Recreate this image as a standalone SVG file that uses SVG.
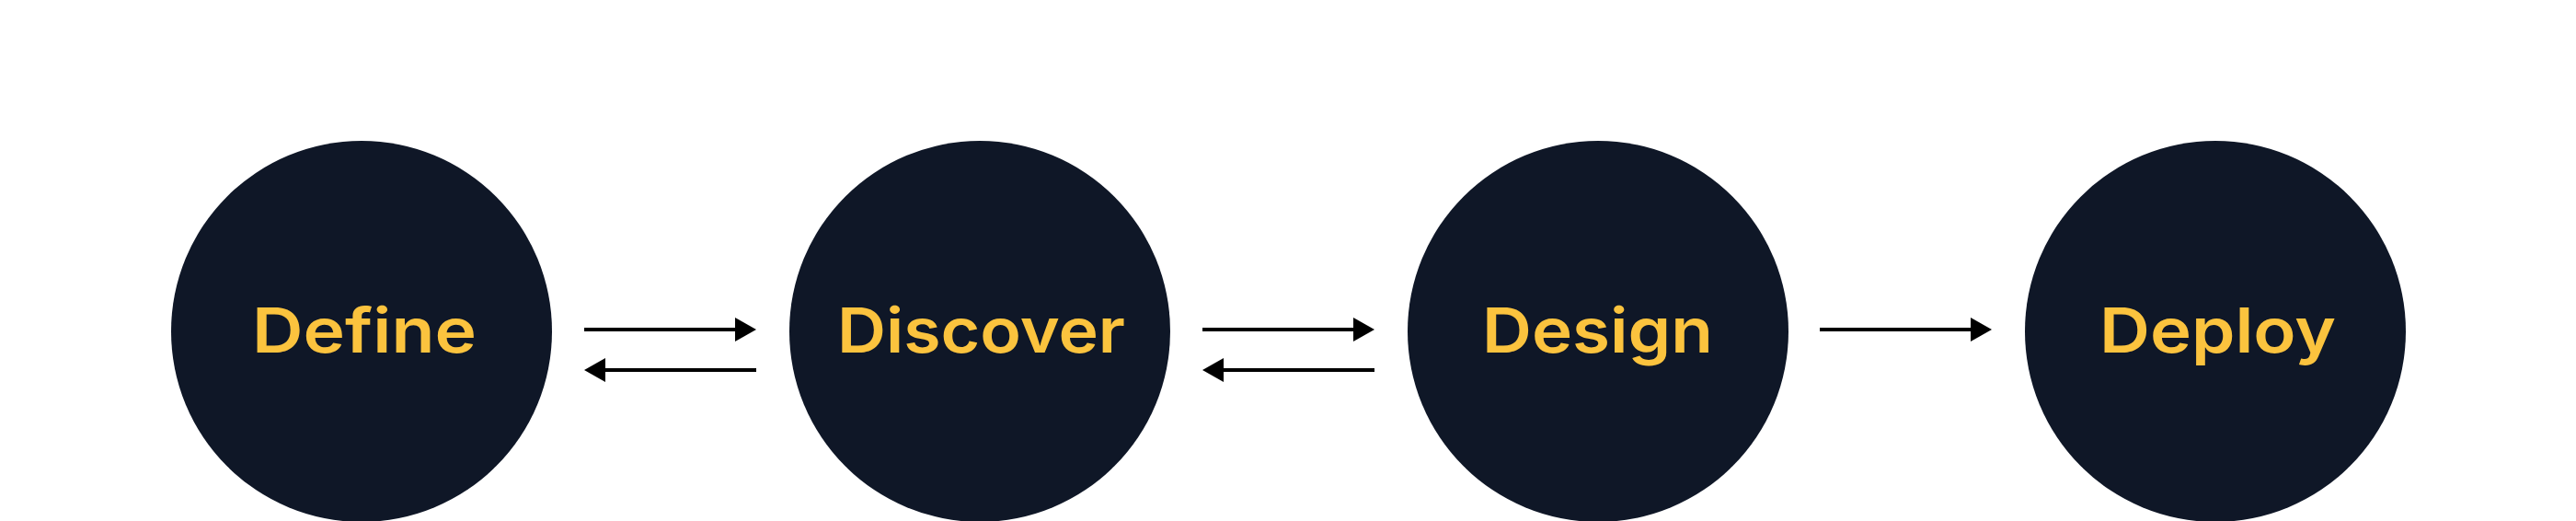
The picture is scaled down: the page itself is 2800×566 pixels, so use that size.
<svg xmlns="http://www.w3.org/2000/svg" width="2800" height="566" viewBox="0 0 2800 566">
<style>
.node{fill:#0F1727}
.lbl{fill:#FBC33E;font-family:Inter,"Noto Sans",sans-serif;font-weight:600;font-size:67px;text-anchor:middle}
.conn{stroke:#000;stroke-width:4;fill:none}
.head{fill:#000}
</style>
<rect width="2800" height="566" fill="#fff"/>
<g id="define"><circle class="node" cx="393" cy="360" r="207"/><text class="lbl" x="396" y="383" textLength="244" lengthAdjust="spacingAndGlyphs">Define</text></g>
<g id="discover"><circle class="node" cx="1065" cy="360" r="207"/><text class="lbl" x="1066.5" y="383" textLength="313" lengthAdjust="spacingAndGlyphs">Discover</text></g>
<g id="design"><circle class="node" cx="1737" cy="360" r="207"/><text class="lbl" x="1736.5" y="383" textLength="251" lengthAdjust="spacingAndGlyphs">Design</text></g>
<g id="deploy"><circle class="node" cx="2408" cy="360" r="207"/><text class="lbl" x="2410.5" y="383" textLength="257" lengthAdjust="spacingAndGlyphs">Deploy</text></g>
<g id="connectors">
<line class="conn" x1="635" y1="358" x2="802" y2="358"/><path class="head" d="M799,345 L822,358 L799,371 Z"/>
<line class="conn" x1="822" y1="402" x2="655" y2="402"/><path class="head" d="M658,389 L635,402 L658,415 Z"/>
<line class="conn" x1="1307" y1="358" x2="1474" y2="358"/><path class="head" d="M1471,345 L1494,358 L1471,371 Z"/>
<line class="conn" x1="1494" y1="402" x2="1327" y2="402"/><path class="head" d="M1330,389 L1307,402 L1330,415 Z"/>
<line class="conn" x1="1978" y1="358" x2="2145" y2="358"/><path class="head" d="M2142,345 L2165,358 L2142,371 Z"/>
</g>
</svg>
